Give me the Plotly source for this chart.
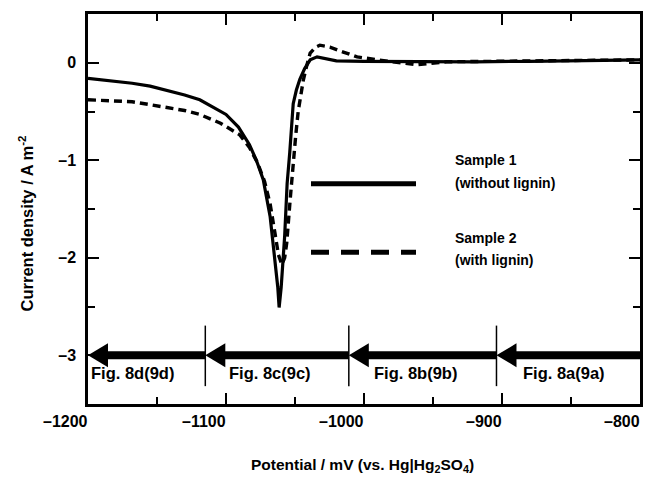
import plotly.graph_objects as go

# ---------------- data ----------------
potential_s1 = [-1200, -1185, -1168, -1155, -1143, -1130, -1119, -1110, -1100, -1091, -1083, -1078,
                -1073, -1068, -1065.3, -1062.5, -1061.5, -1060, -1057.5, -1055.7, -1053.8, -1052.5,
                -1051.3, -1049, -1046.5, -1043, -1039, -1034, -1028, -1020, -1000, -960, -920, -880,
                -840, -815, -800]
current_s1 = [-0.16, -0.18, -0.21, -0.24, -0.28, -0.33, -0.38, -0.45, -0.53, -0.66, -0.84, -1.0,
              -1.2, -1.58, -1.92, -2.3, -2.51, -2.3, -1.78, -1.24, -0.92, -0.65,
              -0.42, -0.28, -0.17, -0.06, 0.03, 0.06, 0.04, 0.02, 0.015, 0.01, 0.01, 0.015,
              0.02, 0.02, 0.03]

potential_s2 = [-1200, -1185, -1168, -1155, -1143, -1130, -1119, -1110, -1104, -1097, -1090, -1083,
                -1077, -1072, -1068, -1064.5, -1062, -1059.5, -1057.5, -1056, -1055, -1053.7,
                -1052.5, -1051.3, -1049.5, -1047.7, -1046, -1044, -1041.5, -1039, -1035, -1032,
                -1028, -1024.7, -1015, -1005, -990, -962, -940, -900, -860, -830, -800]
current_s2 = [-0.38, -0.39, -0.40, -0.43, -0.46, -0.49, -0.53, -0.58, -0.62, -0.68, -0.74, -0.87,
              -1.03, -1.22, -1.45, -1.75, -1.97, -2.07, -2.0, -1.85, -1.63, -1.44,
              -1.24, -1.02, -0.75, -0.50, -0.33, -0.18, -0.03, 0.10, 0.16, 0.18,
              0.17, 0.16, 0.11, 0.06, 0.03, -0.02, 0.01, 0.015, 0.02, 0.02, 0.03]

series_names = ["Sample 1", "Sample 2"]
series_notes = ["(without lignin)", "(with lignin)"]

x_tick_values = [-1200, -1100, -1000, -900, -800]
x_tick_labels = ["\u20131200", "\u20131100", "\u20131000", "\u2013900", "\u2013800"]
y_tick_values = [0, -1, -2, -3]
y_tick_labels = ["0", "\u20131", "\u20132", "\u20133"]

region_bounds = [-1200, -1115, -1011, -904, -800]
region_labels = ["Fig. 8d(9d)", "Fig. 8c(9c)", "Fig. 8b(9b)", "Fig. 8a(9a)"]
region_label_x = [-1200, -1100, -995, -887]
arrow_level = -3

# ---------------- layout geometry ----------------
OFF = 8                      # default page body margin
W, H = 653 - OFF, 477 - OFF
PL, PR, PT, PB = 88, 640, 11, 404     # plot area in window pixels
ML, MT = PL - OFF, PT - OFF
MR, MB = W - (PR - OFF), H - (PB - OFF)
PW, PH = PR - PL, PB - PT
XR = [-1200, -800]
YR = [-3.5, 0.5]
px_per_mv = PW / (XR[1] - XR[0])
px_per_unit = PH / (YR[1] - YR[0])

FONT = "Liberation Sans, Arial, sans-serif"


def px_x(p):
    return (p - PL) / PW


def px_y(p):
    return (PB - p) / PH


def py_data(p):
    return YR[1] - (p - PT) / px_per_unit


fig = go.Figure()
fig.add_trace(go.Scatter(x=potential_s2, y=current_s2, mode="lines", name=series_names[1],
                         line=dict(color="black", width=3.4, dash="8px,5px")))
fig.add_trace(go.Scatter(x=potential_s1, y=current_s1, mode="lines", name=series_names[0],
                         line=dict(color="black", width=3.2)))

shapes = []
annotations = []

# region arrows
head_len = 20 / px_per_mv
head_half = 12 / px_per_unit
for i in range(len(region_bounds) - 1):
    xa, xb = region_bounds[i], region_bounds[i + 1]
    shapes.append(dict(type="line", xref="x", yref="y", x0=xa + head_len * 0.8, x1=xb,
                       y0=arrow_level, y1=arrow_level, line=dict(color="black", width=8)))
    shapes.append(dict(type="path", xref="x", yref="y",
                       path=f"M {xa},{arrow_level} L {xa + head_len},{arrow_level + head_half} "
                            f"L {xa + head_len},{arrow_level - head_half} Z",
                       fillcolor="black", line=dict(color="black", width=0)))
    annotations.append(dict(x=region_label_x[i], y=py_data(373), xref="x", yref="y",
                            text=region_labels[i], showarrow=False, xanchor="left",
                            yanchor="middle", xshift=1,
                            font=dict(family=FONT, size=16.5, color="black", weight="bold")))
for xb in region_bounds[1:-1]:
    shapes.append(dict(type="line", xref="x", yref="y", x0=xb, x1=xb,
                       y0=py_data(325), y1=py_data(386),
                       line=dict(color="black", width=1.5)))

# legend (manual)
shapes.append(dict(type="line", xref="paper", yref="paper", x0=px_x(311), x1=px_x(416),
                   y0=px_y(182), y1=px_y(182), line=dict(color="black", width=5)))
shapes.append(dict(type="line", xref="paper", yref="paper", x0=px_x(311), x1=px_x(416),
                   y0=px_y(251), y1=px_y(251), line=dict(color="black", width=5, dash="18px,12px")))
for txt, yy in [(series_names[0], 158), (series_notes[0], 181),
                (series_names[1], 237), (series_notes[1], 259)]:
    annotations.append(dict(x=px_x(453), y=px_y(yy), xref="paper", yref="paper", text=txt,
                            showarrow=False, xanchor="left", yanchor="middle",
                            font=dict(family=FONT, size=14, color="black", weight="bold")))

# x tick labels (right-aligned to ticks as in the original)
for v, t in zip(x_tick_values, x_tick_labels):
    annotations.append(dict(x=v, y=px_y(422), xref="x", yref="paper", text=t, showarrow=False,
                            xanchor="right", yanchor="middle", xshift=2,
                            font=dict(family=FONT, size=16, color="black", weight="bold")))

# axis titles
annotations.append(dict(x=px_x(362), y=px_y(466), xref="paper", yref="paper",
                        text="Potential / mV (vs. Hg|Hg<sub>2</sub>SO<sub>4</sub>)",
                        showarrow=False, xanchor="center", yanchor="middle",
                        font=dict(family=FONT, size=15.5, color="black", weight="bold")))
annotations.append(dict(x=px_x(26), y=px_y(222), xref="paper", yref="paper",
                        text="Current density / A m<sup>-2</sup>", textangle=-90,
                        showarrow=False, xanchor="center", yanchor="middle",
                        font=dict(family=FONT, size=16.5, color="black", weight="bold")))

axis_common = dict(showgrid=False, zeroline=False, showline=True, linecolor="black", linewidth=2.5,
                   mirror="allticks", ticks="inside", ticklen=11, tickwidth=1.5, tickcolor="black")

fig.update_layout(
    width=W, height=H, autosize=False,
    margin=dict(l=ML, r=MR, t=MT, b=MB, pad=0),
    paper_bgcolor="white", plot_bgcolor="white",
    showlegend=False,
    shapes=shapes, annotations=annotations,
    xaxis=dict(range=XR, tickvals=x_tick_values, showticklabels=False,
               minor=dict(dtick=50, tick0=-1200, ticks="inside", ticklen=7, tickwidth=1.5,
                          tickcolor="black"),
               **axis_common),
    yaxis=dict(range=YR, tickvals=y_tick_values, ticktext=y_tick_labels,
               tickfont=dict(family=FONT, size=16, color="black", weight="bold"),
               ticklabelstandoff=6,
               minor=dict(dtick=0.5, tick0=0, ticks="inside", ticklen=7, tickwidth=1.5,
                          tickcolor="black"),
               **axis_common),
)

fig.write_html("out.html")
